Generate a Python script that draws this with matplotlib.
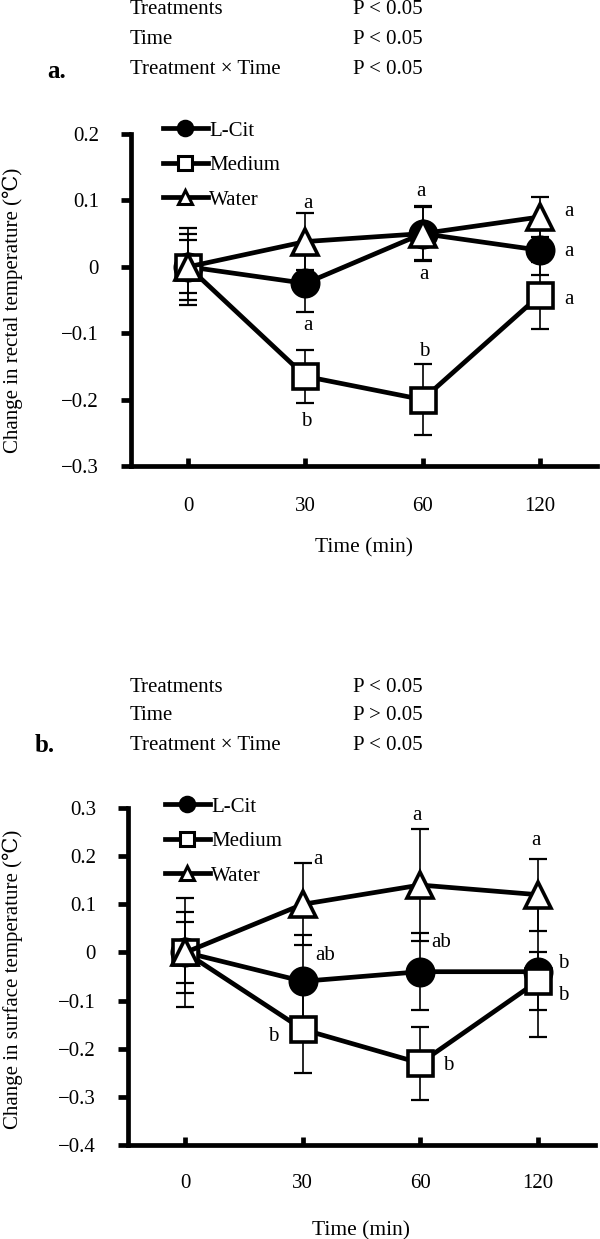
import matplotlib
matplotlib.use("Agg")
import matplotlib.pyplot as plt
from matplotlib.lines import Line2D
import numpy as np

plt.rcParams['font.family'] = ['Liberation Serif', 'DejaVu Serif', 'DejaVu Sans']
plt.rcParams['mathtext.fontset'] = 'dejavuserif'

time_labels = ['0', '30', '60', '120']
series_names = ['L-Cit', 'Medium', 'Water']

# Panel a: rectal temperature change
a_lcit = [0.0, -0.025, 0.05, 0.025]
a_lcit_err = [0.05, 0.043, 0.04, 0.037]
a_medium = [0.0, -0.165, -0.20, -0.043]
a_medium_err = [0.058, 0.04, 0.053, 0.05]
a_water = [0.0, 0.038, 0.05, 0.075]
a_water_err = [0.04, 0.043, 0.042, 0.03]
a_letters = ['a', 'a', 'b', 'a', 'a', 'b', 'a', 'a', 'a']
a_letter_x = [1.02, 1.02, 1.01, 1.99, 2.01, 2.01, 3.25, 3.25, 3.25]
a_letter_y = [0.096, -0.089, -0.233, 0.114, -0.012, -0.128, 0.083, 0.023, -0.05]
a_stats = [('Treatments', 'P < 0.05'), ('Time', 'P < 0.05'), ('Treatment × Time', 'P < 0.05')]

# Panel b: surface temperature change
b_lcit = [0.0, -0.06, -0.04, -0.04]
b_lcit_err = [0.084, 0.096, 0.08, 0.135]
b_medium = [0.0, -0.16, -0.23, -0.06]
b_medium_err = [0.063, 0.09, 0.076, 0.06]
b_water = [0.0, 0.10, 0.14, 0.12]
b_water_err = [0.113, 0.085, 0.116, 0.075]
b_letters = ['a', 'ab', 'b', 'a', 'ab', 'b', 'a', 'b', 'b']
b_letter_x = [1.13, 1.19, 0.75, 1.97, 2.18, 2.24, 2.99, 3.22, 3.22]
b_letter_y = [0.194, -0.006, -0.174, 0.285, 0.02, -0.234, 0.233, -0.022, -0.089]
b_stats = [('Treatments', 'P < 0.05'), ('Time', 'P > 0.05'), ('Treatment × Time', 'P < 0.05')]

W, H = 600, 1239
fig = plt.figure(figsize=(W / 100, H / 100), dpi=100)

def fx(px):
    return px / W

def fy(py):
    return 1 - py / H

styles = [
    dict(marker='o', mfc='black', mec='black', ms=19),
    dict(marker='s', mfc='white', mec='black', ms=18),
    dict(marker='^', mfc='white', mec='black', ms=19),
]

def panel(rect, data, errs, ylim, yticks, ylabel, letters, lx, ly,
          leg_anchor, xtick_pad, xlabelpad, label_y):
    ax = fig.add_axes(rect)
    x = np.arange(len(time_labels))
    handles = []
    for i, (vals, err, st) in enumerate(zip(data, errs, styles)):
        ax.errorbar(x, vals, yerr=err, fmt='none', ecolor='black',
                    elinewidth=1.2, capsize=6.5, capthick=1.6, zorder=2 + i * 2)
        ax.plot(x, vals, color='black', lw=3.4, mew=2.6, zorder=3 + i * 2, **st)
        h = Line2D([], [], color='black', lw=3.4, marker=st['marker'],
                   mfc=st['mfc'], mec='black', mew=2.2, ms=st['ms'] * 0.55)
        handles.append(h)
    ax.set_xlim(-0.49, 3.49)
    ax.set_ylim(*ylim)
    ax.set_yticks(yticks)
    ax.set_yticklabels(['0' if abs(v) < 1e-9 else ('%.1f' % v).replace('-', '\u2212')
                        for v in yticks])
    ax.set_xticks(x)
    ax.set_xticklabels(time_labels)
    for s in ['top', 'right']:
        ax.spines[s].set_visible(False)
    for s in ['left', 'bottom']:
        ax.spines[s].set_linewidth(3.4)
    ax.tick_params(axis='y', direction='out', length=7, width=3.4, pad=16,
                   labelsize=15)
    ax.tick_params(axis='x', direction='in', length=6, width=3.4, pad=xtick_pad,
                   labelsize=15)
    ax.set_xlabel('Time (min)', fontsize=15.5, labelpad=xlabelpad)
    ax.set_ylabel(ylabel, fontsize=15)
    for t, xx, yy in zip(letters, lx, ly):
        ax.text(xx, yy, t, ha='center', va='center', fontsize=15, zorder=10)
    ax.legend(handles, series_names, loc='upper left', bbox_to_anchor=leg_anchor,
              bbox_transform=fig.transFigure, frameon=False, fontsize=15,
              handlelength=2.15, handletextpad=0.08, labelspacing=0.72,
              borderpad=0, borderaxespad=0)
    bb = ax.get_position()
    ax.yaxis.set_label_coords((fx(23) - bb.x0) / bb.width,
                              (fy(label_y) - bb.y0) / bb.height)
    return ax

# panel a
axa = panel([fx(131), fy(466), fx(597) - fx(131), fy(134) - fy(466)],
            [a_lcit, a_medium, a_water], [a_lcit_err, a_medium_err, a_water_err],
            (-0.3, 0.2), [0.2, 0.1, 0.0, -0.1, -0.2, -0.3],
            'Change in rectal temperature (\u2103)',
            a_letters, a_letter_x, a_letter_y,
            (fx(163), fy(121)), 22, 16, 310)

# panel b
axb = panel([fx(128), fy(1145), fx(595) - fx(128), fy(808) - fy(1145)],
            [b_lcit, b_medium, b_water], [b_lcit_err, b_medium_err, b_water_err],
            (-0.4, 0.3), [0.3, 0.2, 0.1, 0.0, -0.1, -0.2, -0.3, -0.4],
            'Change in surface temperature (\u2103)',
            b_letters, b_letter_x, b_letter_y,
            (fx(165), fy(797)), 21, 20, 979)

# Stats text
def stats(rows, ys, label, label_x, label_y):
    for (name, p), yy in zip(rows, ys):
        fig.text(fx(130), fy(yy), name, ha='left', va='center', fontsize=15)
        fig.text(fx(353), fy(yy), p, ha='left', va='center', fontsize=15)
    fig.text(fx(label_x), fy(label_y), label, ha='left', va='center',
             fontsize=18, fontweight='bold')

stats(a_stats, [10, 39, 69], 'a.', 47, 71)
stats(b_stats, [687, 716, 746], 'b.', 35, 746)

fig.savefig('out.png', dpi=100, facecolor='white')
